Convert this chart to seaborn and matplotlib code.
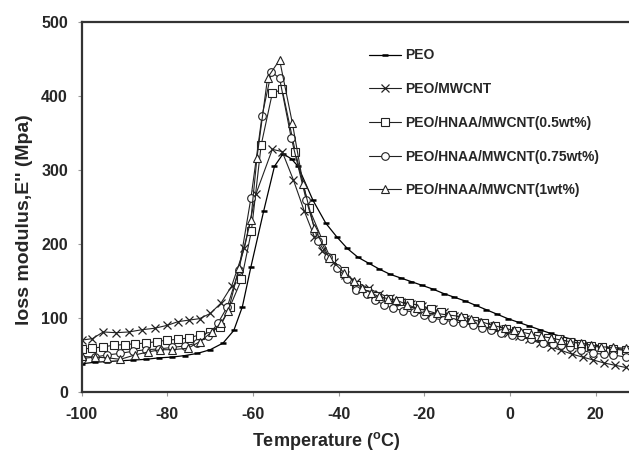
import numpy as np
import pandas as pd
import matplotlib
matplotlib.use("Agg")
import matplotlib.pyplot as plt
import seaborn as sns

# values
t_peo = [-100, -97, -94, -91, -88, -85, -82, -79, -76, -73, -70, -67, -64.5, -62.5, -60.5, -57.5, -55, -53, -51,
         -49.5, -46, -43, -40.5, -38, -35.5, -33, -30.5, -28, -25.5, -23, -20.5, -18, -15.5, -13, -10.5, -8, -5.5,
         -3, -0.5, 2, 4.5, 7, 9.5, 12, 14.5, 17, 19.5, 22, 24.5, 27]
e_peo = [38, 40, 41, 42, 43, 44, 46, 47, 49, 52, 57, 66, 83, 115, 169, 245, 305, 322, 315,
         305, 259, 228, 210, 194, 182, 174, 166, 159, 154, 149, 144, 139, 133, 128, 123, 117, 111,
         105, 99, 94, 89, 84, 79, 75, 71, 67, 64, 61, 59, 57]

t_mwcnt = [-100, -97.5, -95, -92, -89, -86, -83, -80, -77.5, -75, -72.5, -70, -67.5, -65, -62, -59.3, -55.5, -53.2,
           -50.6, -48, -45.7, -43.8, -41, -38.5, -36, -33, -30.5, -28, -25.5, -23, -20.5, -18, -15.5, -13, -10.5,
           -8, -5.5, -3, -0.5, 2, 4.5, 7, 9.5, 12, 14.5, 17, 19.5, 22, 24.5, 27]
e_mwcnt = [70, 72, 81, 80, 81, 84, 86, 90, 95, 97, 99, 106, 120, 143, 195, 268, 328, 325,
           287, 244, 210, 190, 176, 158, 149, 140, 133, 127, 122, 119, 116, 112, 108, 103, 98,
           94, 89, 85, 79, 75, 71, 66, 61, 56, 51, 47, 43, 39, 36, 33]

t_05 = [-100, -97.5, -95, -92.5, -90, -87.5, -85, -82.5, -80, -77.5, -75, -72.5, -70, -67.7, -65.4, -62.7, -60.4,
        -58.1, -55.5, -53.2, -50.1, -46.9, -43.8, -41.9, -38.7, -35.9, -33.5, -31, -28.5, -26, -23.5, -21, -18.5,
        -16, -13.5, -11, -8.5, -6, -3.5, -1, 1.5, 4, 6.5, 9, 11.5, 14, 16.5, 19, 21.5, 24, 27]
e_05 = [58, 59, 61, 63, 64, 65, 66, 68, 70, 71, 73, 77, 81, 88, 115, 152, 217,
        334, 404, 409, 324, 248, 205, 181, 163, 145, 136, 130, 126, 123, 120, 117, 112,
        108, 104, 100, 96, 93, 89, 85, 82, 79, 76, 73, 71, 68, 65, 62, 60, 58, 56]

t_075 = [-100, -97, -94, -91, -88, -85, -82, -79, -76, -73, -70.5, -68.2, -66, -63.3, -60.5, -57.9, -55.7, -53.8,
         -51.1, -47.6, -44.8, -42.5, -40.3, -38, -35.9, -33.5, -31.6, -29.5, -27.4, -25, -22.3, -20, -18.1, -15.7,
         -13.4, -11, -8.7, -6.5, -4.5, -2, 0.5, 2.5, 5, 7.7, 10, 11.9, 14, 16.6, 19.4, 22, 24.1, 27]
e_075 = [45, 47, 50, 52, 55, 57, 58, 60, 62, 66, 75, 93, 115, 165, 262, 373, 433, 424,
         344, 260, 204, 183, 168, 152, 138, 132, 124, 118, 113, 110, 108, 104, 100, 97,
         95, 93, 90, 87, 84, 80, 77, 75, 71, 66, 65, 63, 60, 57, 52, 51, 50, 47]

t_1 = [-100, -97, -94, -91, -87.5, -84.5, -81.7, -78.9, -75.2, -72.4, -69.6, -67.5, -65.8, -63.3, -60.5, -59.1,
       -56.6, -53.8, -50.8, -48.3, -45.7, -42.2, -38.7, -36.5, -34.5, -32.5, -30.7, -28.5, -26.5, -24, -21.8,
       -19.5, -17.1, -14.5, -11.5, -9, -6.8, -4, -1.2, 1, 2.5, 5, 7.2, 9.5, 11.9, 14, 16.6, 19, 21.3, 24, 27]
e_1 = [48, 47, 46, 44, 50, 54, 57, 57, 59, 68, 81, 93, 109, 167, 233, 316,
       425, 449, 363, 281, 222, 181, 161, 150, 140, 134, 129, 126, 124, 118, 113,
       110, 106, 104, 102, 98, 95, 90, 86, 83, 81, 78, 75, 73, 70, 68, 66, 63, 61, 60, 59]

labels = ["PEO", "PEO/MWCNT", "PEO/HNAA/MWCNT(0.5wt%)", "PEO/HNAA/MWCNT(0.75wt%)", "PEO/HNAA/MWCNT(1wt%)"]
markers = ["_", "x", "s", "o", "^"]

sns.set_style("ticks")
plt.rcParams["font.family"] = ["Liberation Sans", "DejaVu Sans"]
plt.rcParams["font.weight"] = "bold"
plt.rcParams["axes.unicode_minus"] = False
plt.rcParams["mathtext.fontset"] = "custom"
plt.rcParams["mathtext.rm"] = "Liberation Sans:bold"
plt.rcParams["mathtext.it"] = "Liberation Sans:bold"

fig = plt.figure(figsize=(6.29, 4.53), dpi=100)
ax = fig.add_axes([0.130, 0.135, 0.87, 0.816])

ink = "#222222"
series = [(t_peo, e_peo), (t_mwcnt, e_mwcnt), (t_05, e_05), (t_075, e_075), (t_1, e_1)]
for (t, e), lab, m in zip(series, labels, markers):
    df = pd.DataFrame({"T": t, "E": e})
    if m == "_":
        sns.lineplot(data=df, x="T", y="E", ax=ax, color="black", lw=0.9, marker=m,
                     markersize=5, markeredgewidth=1.8, markeredgecolor="black", label=lab)
    elif m == "x":
        sns.lineplot(data=df, x="T", y="E", ax=ax, color=ink, lw=0.8, marker=m,
                     markersize=6, markeredgewidth=0.9, markeredgecolor=ink, label=lab)
    else:
        sns.lineplot(data=df, x="T", y="E", ax=ax, color=ink, lw=0.8, marker=m,
                     markersize=5.5, markerfacecolor="white", markeredgecolor=ink,
                     markeredgewidth=0.8, label=lab)

ax.set_xlim(-100, 27.8)
ax.set_ylim(0, 500)
ax.set_xticks([-100, -80, -60, -40, -20, 0, 20])
ax.set_yticks([0, 100, 200, 300, 400, 500])
ax.tick_params(axis="both", labelsize=11.5, length=3, width=0.8, color="#999999")
ax.tick_params(axis="y", pad=7)
ax.tick_params(axis="x", pad=8)

for s in ["left", "bottom", "top"]:
    ax.spines[s].set_linewidth(1.6)
    ax.spines[s].set_color("#333333")
ax.spines["right"].set_visible(False)

ax.set_xlabel(r"Temperature ($^{\mathrm{o}}$C)", fontsize=13, fontweight="bold")
ax.set_ylabel("loss modulus,E'' (Mpa)", fontsize=14, fontweight="bold")
ax.xaxis.set_label_coords(0.446, -0.103)
ax.yaxis.set_label_coords(-0.09, 0.465)

ax.legend(loc="upper left", bbox_to_anchor=(0.587, 0.893), bbox_transform=fig.transFigure,
          frameon=False, handlelength=2.3, handletextpad=0.3, labelspacing=1.42,
          borderpad=0, borderaxespad=0, prop={"weight": "bold", "size": 10})

fig.savefig("out.png", dpi=100)
